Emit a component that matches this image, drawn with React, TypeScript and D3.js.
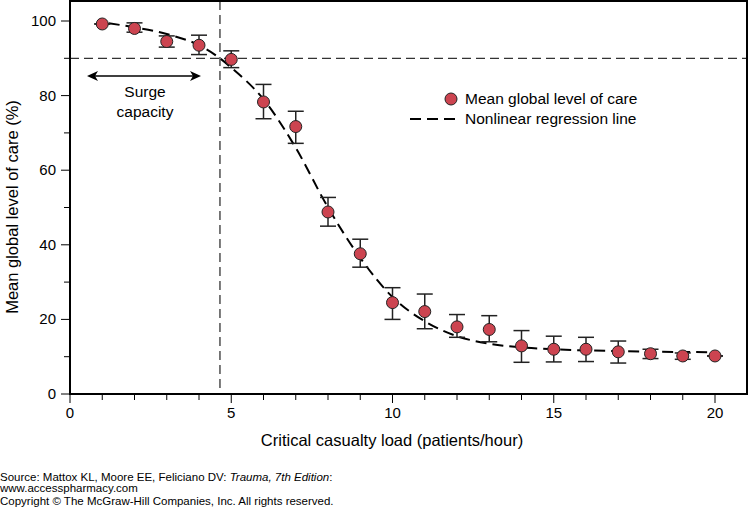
import React from "react";
import * as d3 from "d3";

const xs = [1,2,3,4,5,6,7,8,9,10,11,12,13,14,15,16,17,18,19,20];
const means = [99.2,98,94.5,93.5,89.7,78.3,71.7,48.8,37.6,24.5,22.1,18,17.3,12.9,12,12,11.3,10.8,10.2,10.2];
const lows = [99.2,97,93,91,87.5,73.8,67.2,45,34,20,17.5,15.2,14,8.5,8.6,8.7,8.3,9.5,9.3,10.2];
const highs = [99.2,99.5,96,96.2,92,83,75.8,52.7,41.5,28.5,26.8,21.3,21,17,15.5,15.2,14.2,12,11,10.2];
const fitX = [1.2,2,3,4,4.65,5,6,7,8,9,10,11,12,13,14,15,17,20];
const fitY = [99.4,98.3,96.5,93.5,90,87.5,79,66,50,36.5,26,19.5,15.5,13.5,12.5,12,11.5,11.2];
const xTicks = [0,5,10,15,20];
const yTicks = [0,20,40,60,80,100];

export default function App() {
  const x = d3.scaleLinear().domain([0, 20]).range([70, 715]);
  const y = d3.scaleLinear().domain([0, 100]).range([394, 21]);
  const line = d3.line<number>().x((_, i) => x(fitX[i])).y((d) => y(d)).curve(d3.curveMonotoneX);
  const font = "Liberation Sans, Arial, sans-serif";
  return (
    <svg width={749} height={508} style={{ position: "absolute", left: 0, top: 0 }} fontFamily={font}>
      <rect x={0} y={0} width={749} height={508} fill="#fff" />
      {d3.range(0, 21).map((t) => (
        <line key={"xt" + t} x1={x(t)} x2={x(t)} y1={394} y2={t % 5 === 0 ? 403 : 400} stroke="#000" strokeWidth={1} />
      ))}
      {d3.range(0, 101, 10).map((t) => (
        <line key={"yt" + t} x1={t % 20 === 0 ? 61 : 64} x2={70} y1={y(t)} y2={y(t)} stroke="#000" strokeWidth={1} />
      ))}
      {xTicks.map((t) => (
        <text key={"xl" + t} x={x(t)} y={418} textAnchor="middle" fontSize={15}>{t}</text>
      ))}
      {yTicks.map((t) => (
        <text key={"yl" + t} x={56} y={y(t) + 5} textAnchor="end" fontSize={15}>{t}</text>
      ))}
      <text x={392} y={446} textAnchor="middle" fontSize={16.5}>Critical casualty load (patients/hour)</text>
      <text transform="translate(18,207) rotate(-90)" textAnchor="middle" fontSize={16.5}>Mean global level of care (%)</text>
      <line x1={70} x2={747} y1={y(90)} y2={y(90)} stroke="#333" strokeWidth={1.3} strokeDasharray="9,5" />
      <line x1={x(4.65)} x2={x(4.65)} y1={1} y2={394} stroke="#333" strokeWidth={1.3} strokeDasharray="9,5" />
      <path d={line(fitY) || ""} fill="none" stroke="#000" strokeWidth={2} strokeDasharray="11,6" />
      {xs.map((v, i) => (
        <g key={"e" + i} stroke="#222" strokeWidth={1.5}>
          <line x1={x(v)} x2={x(v)} y1={y(lows[i])} y2={y(highs[i])} />
          <line x1={x(v) - 8} x2={x(v) + 8} y1={y(lows[i])} y2={y(lows[i])} />
          <line x1={x(v) - 8} x2={x(v) + 8} y1={y(highs[i])} y2={y(highs[i])} />
        </g>
      ))}
      {xs.map((v, i) => (
        <circle key={"c" + i} cx={x(v)} cy={y(means[i])} r={6} fill="#cc4450" stroke="#222" strokeWidth={1} />
      ))}
      <rect x={70} y={1} width={677} height={393} fill="none" stroke="#000" strokeWidth={2} />
      <line x1={90} x2={198} y1={76} y2={76} stroke="#000" strokeWidth={1.3} />
      <path d="M87,76 L98,71 L95,76 L98,81 Z" fill="#000" />
      <path d="M201,76 L190,71 L193,76 L190,81 Z" fill="#000" />
      <text x={145} y={97} textAnchor="middle" fontSize={15.5}>Surge</text>
      <text x={145} y={117} textAnchor="middle" fontSize={15.5}>capacity</text>
      <circle cx={451} cy={99} r={6} fill="#cc4450" stroke="#222" strokeWidth={1} />
      <text x={465} y={104} fontSize={15.5}>Mean global level of care</text>
      <line x1={410} x2={456} y1={119} y2={119} stroke="#000" strokeWidth={2} strokeDasharray="11,6" />
      <text x={465} y={124} fontSize={15.5}>Nonlinear regression line</text>
      <text x={0} y={481} fontSize={11.5}>Source: Mattox KL, Moore EE, Feliciano DV: <tspan fontStyle="italic">Trauma, 7th Edition</tspan>:</text>
      <text x={0} y={492} fontSize={11.5}>www.accesspharmacy.com</text>
      <text x={0} y={505} fontSize={11.5}>Copyright © The McGraw-Hill Companies, Inc. All rights reserved.</text>
    </svg>
  );
}
